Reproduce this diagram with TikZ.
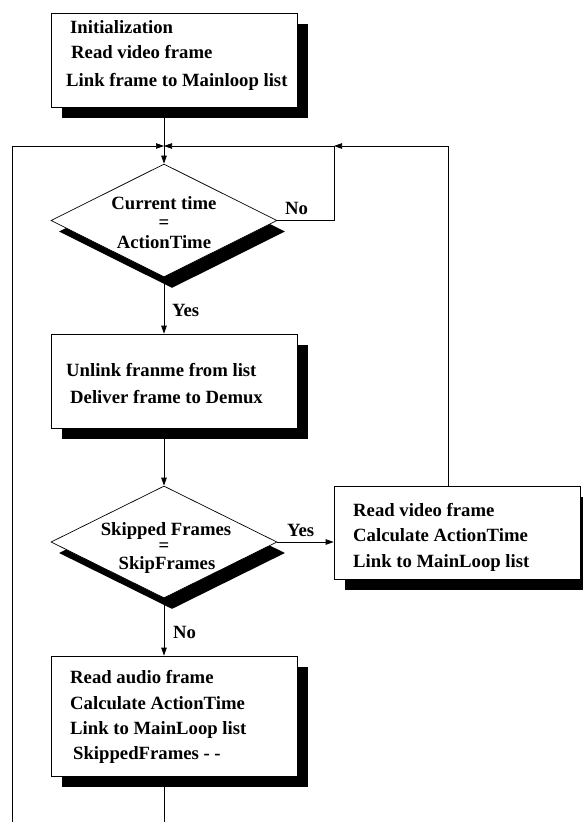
\documentclass[tikz,border=0pt]{standalone}
\usepackage{fontspec}
\setmainfont{Liberation Serif}
\usetikzlibrary{shapes.geometric,arrows.meta,shadows,backgrounds}

\tikzset{
  stepbox/.style={draw=black, line width=0.7pt, fill=white, rectangle,
    minimum width=246pt, inner sep=0pt,
    drop shadow={shadow xshift=11pt, shadow yshift=-11pt, fill=black, opacity=1}},
  testbox/.style={draw=black, line width=0.7pt, fill=white, diamond,
    minimum width=226pt, minimum height=113pt, inner sep=0pt,
    drop shadow={shadow xshift=8pt, shadow yshift=-11pt, fill=black, opacity=1}},
  txt/.style={anchor=base west, inner sep=0pt,
    font=\fontsize{18.7}{25}\selectfont\bfseries},
  ctxt/.style={txt, anchor=base},
  flow/.style={line width=0.7pt, draw=black},
  arr/.style={flow, -{Triangle[length=8pt,width=5.5pt]}},
}

\begin{document}
\begin{tikzpicture}[x=1pt,y=-1pt]
\useasboundingbox (0,0) rectangle (582,822);

% process boxes and decisions
\node[stepbox, minimum height=94pt] (init) at (174,60) {};
\node[testbox] (d1) at (164,220.5) {};
\node[stepbox, minimum height=94pt] (unlink) at (174,381) {};
\node[testbox, minimum height=112pt] (d2) at (164,542) {};
\node[stepbox, minimum height=93pt] (video) at (457,532.5) {};
\node[stepbox, minimum height=120pt] (audio) at (174,716) {};

% texts
\node[txt] (i1) at (70,33) {Initialization};
\node[txt] (i2) at (71,58) {Read video frame};
\node[txt] (i3) at (66,86) {Link frame to Mainloop list};

\node[ctxt] (c1) at (164,209) {Current time};
\node[ctxt] (c2) at (164,228) {=};
\node[ctxt] (c3) at (164,248) {ActionTime};

\node[txt] (u1) at (66,376) {Unlink franme from list};
\node[txt] (u2) at (70,403) {Deliver frame to Demux};

\node[ctxt] (s1) at (166,535) {Skipped Frames};
\node[ctxt] (s2) at (164,551) {=};
\node[ctxt] (s3) at (167,569) {SkipFrames};

\node[txt] (v1) at (353,516) {Read video frame};
\node[txt] (v2) at (353,541) {Calculate ActionTime};
\node[txt] (v3) at (353,567) {Link to MainLoop list};

\node[txt] (a1) at (70,683) {Read audio frame};
\node[txt] (a2) at (70,709) {Calculate ActionTime};
\node[txt] (a3) at (70,734) {Link to MainLoop list};
\node[txt] (a4) at (73,759) {SkippedFrames - -};

% branch labels
\node[txt] (no1) at (285,214) {No};
\node[txt] (yes1) at (172,316) {Yes};
\node[txt] (yes2) at (287,536) {Yes};
\node[txt] (no2) at (173,638) {No};

% connector points
\coordinate (jn) at (164,146);
\coordinate (lt) at (12,146);
\coordinate (lb) at (12,822);
\coordinate (rt) at (448,146);
\coordinate (nt) at (334,146);

\begin{scope}[on background layer]
  \draw[arr] (d1.north |- init.south) -- (d1.north);
  \draw[arr] (d1.south) -- (d1.south |- unlink.north);
  \draw[arr] (d2.north |- unlink.south) -- (d2.north);
  \draw[arr] (d2.east) -- (d2.east -| video.west);
  \draw[arr] (d2.south) -- (d2.south |- audio.north);
  \draw[flow] (d2.south |- audio.south) -- (d2.south |- lb);
  \draw[arr] (d1.east) -| (nt) -- (jn);
  \draw[arr] (rt |- video.north) -- (rt) -- (nt);
  \draw[arr] (lb) -- (lt) -- (jn);
\end{scope}
\end{tikzpicture}
\end{document}
